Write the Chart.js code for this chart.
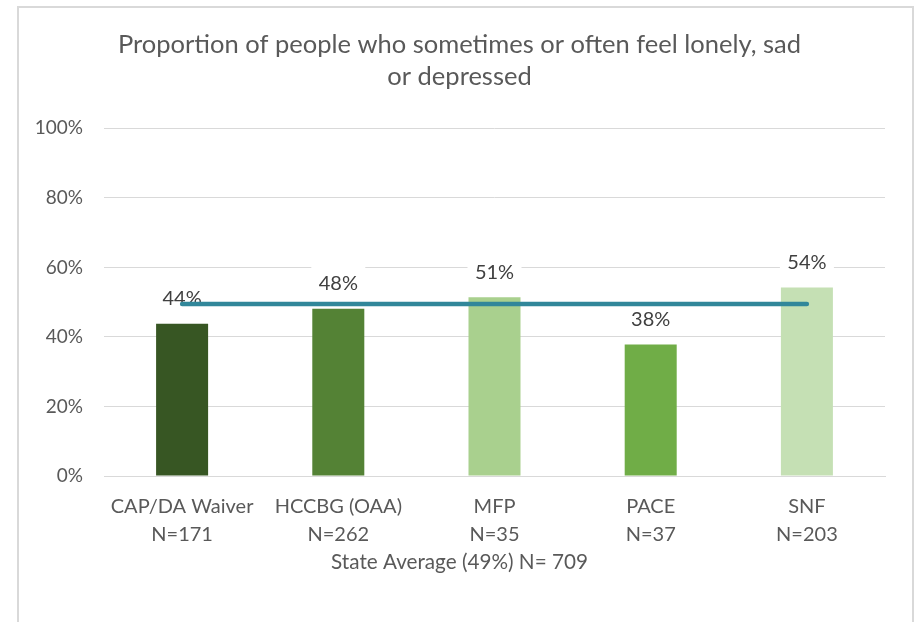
<!DOCTYPE html>
<html>
<head>
<meta charset="utf-8">
<script src="https://cdn.jsdelivr.net/npm/chart.js@4.4.1/dist/chart.umd.min.js"></script>
<style>
  html, body { margin: 0; padding: 0; background: #ffffff; }
  #wrap { width: 920px; height: 622px; }
</style>
</head>
<body>
<div id="wrap"><canvas id="c" width="920" height="622"></canvas></div>
<script>
// ---- data ----
const categories = [
  ['CAP/DA Waiver', 'N=171'],
  ['HCCBG (OAA)', 'N=262'],
  ['MFP', 'N=35'],
  ['PACE', 'N=37'],
  ['SNF', 'N=203']
];
const proportions = [43.8, 48.1, 51.4, 37.8, 54.2];
const stateAverage = [49.5, 49.5, 49.5, 49.5, 49.5];
const barColors = ['#375623', '#548235', '#A9D08E', '#70AD47', '#C5E0B4'];
const yTicks = [0, 20, 40, 60, 80, 100];
const titleLines = ['Proportion of people who sometimes or often feel lonely, sad', 'or depressed'];
const axisTitle = 'State Average (49%) N= 709';

const FONT = 'Lato, "Open Sans", sans-serif';
const TEXT = '#595959';
const GRID = '#D9D9D9';

const framePlugin = {
  id: 'frame',
  beforeDraw(chart) {
    const ctx = chart.ctx;
    ctx.save();
    ctx.fillStyle = '#ffffff';
    ctx.fillRect(0, 0, chart.width, chart.height);
    ctx.strokeStyle = GRID;
    ctx.lineWidth = 2;
    ctx.strokeRect(18, 7, 895, 700);
    ctx.restore();
  }
};

const barLabelPlugin = {
  id: 'barLabels',
  afterDatasetDraw(chart, args) {
    if (args.index !== 0) return;
    const ctx = chart.ctx;
    ctx.save();
    ctx.font = '20px ' + FONT;
    ctx.textAlign = 'center';
    ctx.textBaseline = 'middle';
    args.meta.data.forEach((el, i) => {
      const txt = Math.round(proportions[i]) + '%';
      const cy = el.y - 25;
      ctx.fillStyle = '#ffffff';
      ctx.fillRect(el.x - 27, cy - 19, 54, 33);
      ctx.fillStyle = '#404040';
      ctx.fillText(txt, el.x, cy);
    });
    ctx.restore();
  }
};

new Chart(document.getElementById('c'), {
  data: {
    labels: categories,
    datasets: [
      {
        type: 'bar',
        label: 'Proportion',
        data: proportions,
        backgroundColor: barColors,
        borderWidth: 0,
        categoryPercentage: 1.0,
        barPercentage: 0.333,
        order: 2
      },
      {
        type: 'line',
        label: 'State Average',
        data: stateAverage,
        borderColor: '#31879A',
        borderWidth: 4.5,
        borderCapStyle: 'round',
        pointRadius: 0,
        fill: false,
        tension: 0,
        order: 1
      }
    ]
  },
  options: {
    responsive: false,
    animation: false,
    devicePixelRatio: 1,
    layout: { padding: { left: 34, right: 35, top: 10, bottom: 0 } },
    plugins: {
      legend: { display: false },
      tooltip: { enabled: false },
      title: {
        display: true,
        text: titleLines,
        color: TEXT,
        font: { family: FONT, size: 25.5, weight: 'normal', lineHeight: 1.28 },
        padding: { top: 18, bottom: 35 }
      },
      subtitle: {
        display: true,
        position: 'bottom',
        text: axisTitle,
        color: TEXT,
        font: { family: FONT, size: 20.7, weight: 'normal', lineHeight: 1.4 },
        padding: { top: 2, bottom: 45 }
      }
    },
    scales: {
      x: {
        grid: { display: false, drawTicks: false },
        border: { display: true, color: GRID, width: 1 },
        ticks: {
          color: TEXT,
          font: { family: FONT, size: 20, lineHeight: 1.4 },
          padding: 17,
          maxRotation: 0,
          minRotation: 0,
          autoSkip: false
        },
        afterFit(scale) { scale.height = 70; }
      },
      y: {
        min: yTicks[0],
        max: yTicks[yTicks.length - 1],
        afterBuildTicks(scale) { scale.ticks = yTicks.map(v => ({ value: v })); },
        ticks: {
          callback: v => v + '%',
          color: TEXT,
          font: { family: FONT, size: 19 },
          padding: 21
        },
        grid: { color: GRID, drawTicks: false },
        border: { display: false },
        afterFit(scale) { scale.width = 70; }
      }
    }
  },
  plugins: [framePlugin, barLabelPlugin]
});
</script>
</body>
</html>
